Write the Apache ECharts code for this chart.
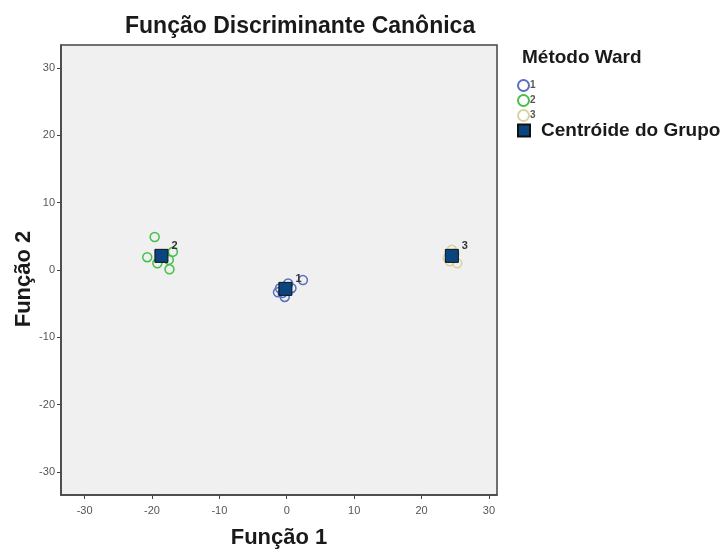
<!DOCTYPE html>
<html><head><meta charset="utf-8">
<script src="https://cdn.jsdelivr.net/npm/echarts@6/dist/echarts.min.js"></script>
<style>html,body{margin:0;padding:0;background:#fff}#c{width:725px;height:552px}</style>
</head><body><div id="c"></div>
<script>
const groupNames = ['1', '2', '3'];
const group1 = [[2.4, -1.5], [-1.3, -3.3], [-0.3, -4.0], [0.7, -2.7], [0.2, -2.0], [-1.0, -2.7], [-0.6, -3.4]];
const group2 = [[-19.6, 4.9], [-20.7, 1.9], [-19.2, 1.0], [-16.9, 2.7], [-17.5, 1.5], [-17.4, 0.1]];
const group3 = [[23.9, 1.8], [25.3, 1.0], [24.5, 3.0], [24.9, 2.4], [24.2, 1.3]];
const centroids = [[-0.2, -2.8, '1'], [-18.6, 2.1, '2'], [24.5, 2.1, '3']];
const tickValues = [-30, -20, -10, 0, 10, 20, 30];
const colors = ['#5b6fbf', '#45c04a', '#d8d3a4'];
const centroidName = 'Centróide do Grupo';

const chart = echarts.init(document.getElementById('c'));
const font = 'Liberation Sans, Arial, sans-serif';
const groups = [group1, group2, group3];
const series = groups.map((g, i) => ({
  name: groupNames[i], type: 'scatter', data: g, symbol: 'circle', symbolSize: 9,
  itemStyle: { color: 'rgba(0,0,0,0)', borderColor: colors[i], borderWidth: 1.5, opacity: 1 },
  z: 2
}));
series.push({
  name: centroidName, type: 'scatter', data: centroids, symbol: 'rect', symbolSize: 13,
  itemStyle: { color: '#0b4580', borderColor: '#111', borderWidth: 1, opacity: 1 },
  label: { show: true, formatter: p => p.data[2], position: 'right', offset: [-2, -10],
    color: '#333', fontSize: 11, fontWeight: 'bold', fontFamily: font },
  z: 5
});
const axisCommon = {
  type: 'value',
  axisLine: { show: true, onZero: false, lineStyle: { color: '#444', width: 1.5 } },
  splitLine: { show: false },
  axisTick: { show: true, inside: false, length: 4, lineStyle: { color: '#444', width: 1 }, customValues: tickValues },
  axisLabel: { color: '#555', fontSize: 11, fontFamily: font, customValues: tickValues },
  nameLocation: 'middle',
  nameMoveOverlap: false,
  nameTextStyle: { fontSize: 22, fontWeight: 'bold', color: '#1a1a1a', fontFamily: font }
};
chart.setOption({
  animation: false,
  grid: { left: 61, right: 228, top: 45, bottom: 57, show: true, backgroundColor: '#f0f0f0', borderColor: '#444', borderWidth: 1.5,
    outerBoundsMode: 'none', containLabel: false },
  title: { text: 'Função Discriminante Canônica', left: 120, top: 10,
    textStyle: { fontSize: 23, fontWeight: 'bold', color: '#1a1a1a', fontFamily: font } },
  xAxis: Object.assign({}, axisCommon, { min: -33.5, max: 31.2, name: 'Função 1', nameGap: 32,
    axisLabel: Object.assign({}, axisCommon.axisLabel, { margin: 10 }) }),
  yAxis: Object.assign({}, axisCommon, { min: -33.4, max: 33.4, name: 'Função 2', nameGap: 26,
    nameTextStyle: Object.assign({}, axisCommon.nameTextStyle, { padding: [0, 18, 0, 0] }),
    axisLabel: Object.assign({}, axisCommon.axisLabel, { margin: 6 }) }),
  legend: [
    { data: groupNames, orient: 'vertical', left: 517, top: 79, itemWidth: 11, itemHeight: 11, itemGap: 2,
      textStyle: { fontSize: 10, color: '#555', fontWeight: 'bold', fontFamily: font, padding: [0, 0, 0, -4] } , padding: 0},
    { data: [centroidName], orient: 'vertical', left: 517, top: 121, itemWidth: 12, itemHeight: 12, padding: 0,
      textStyle: { fontSize: 19, color: '#1a1a1a', fontWeight: 'bold', fontFamily: font, padding: [0, 0, 0, 6] } }
  ],
  graphic: [{ type: 'text', left: 522, top: 48,
    style: { text: 'Método Ward', fontSize: 19, fontWeight: 'bold', fill: '#1a1a1a', fontFamily: font } }],
  series: series
});
</script></body></html>
